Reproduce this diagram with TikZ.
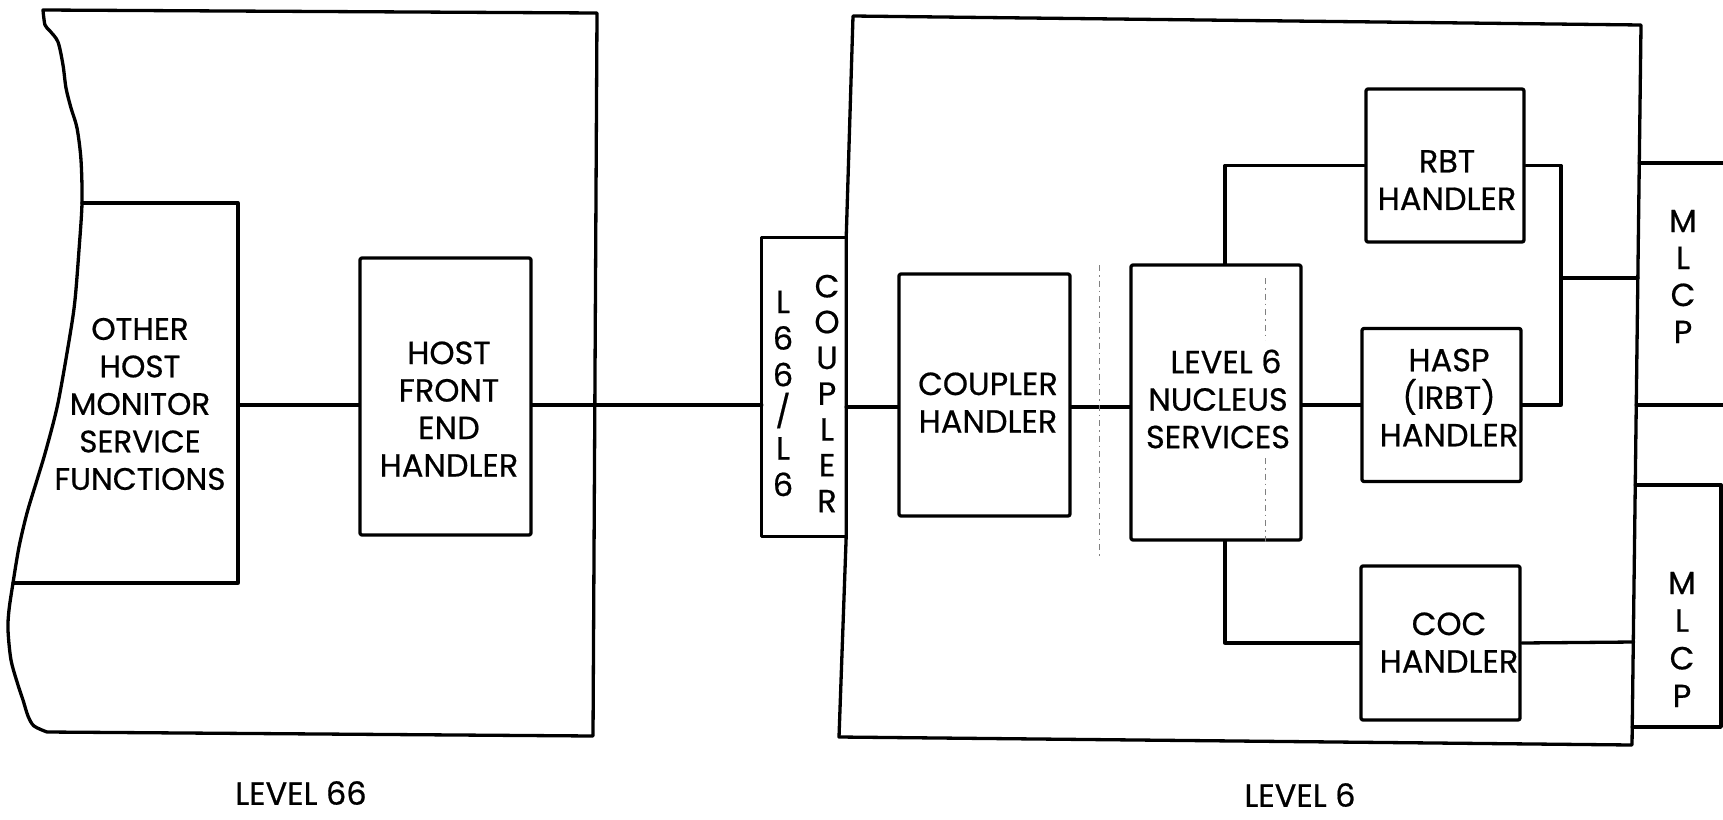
\documentclass[tikz,border=0pt]{standalone}
\usepackage{fontspec}
\setmainfont{Poppins}[FakeBold=0.6]
\begin{document}
\tikzset{
  ln/.style={line width=3.3pt, line join=round, line cap=round},
  blk/.style={draw, ln, rounded corners=2pt, inner sep=0pt},
  lbl/.style={font=\fontsize{32}{37.5}\selectfont, align=center, inner sep=0pt},
  one/.style={font=\fontsize{32}{37.5}\selectfont, inner sep=0pt},
  vlbl/.style={font=\fontsize{32}{36.6}\selectfont, align=center, inner sep=0pt},
  fold/.style={line width=1pt, black!50, dash pattern=on 6pt off 4pt on 1.5pt off 4pt},
}
\begin{tikzpicture}[x=1pt,y=-1pt]
\useasboundingbox (0,0) rectangle (1723,819);
\fill[white] (0,0) rectangle (1723,819);

% ---------- LEVEL 66 ----------
\draw[ln] plot[smooth, tension=0.5] coordinates {(43,10) (45,25) (50,31) (58,42) (63,65) (66,88) (71,108) (77,128) (81,160) (82,203) (79,250) (75,300) (70,335) (58,403) (46,450) (37,480) (27,513) (19,547) (13,583) (9,610) (8,630) (11,660) (18,685) (23,700) (28,716) (34,726) (47,732)} -- (593,736) -- (597,13) -- cycle;

\coordinate (othE) at (238,405);
\draw[ln] (82,203) -- (238,203) -- (238,583) -- (13,583);
\node[font=\fontsize{31}{37.5}\selectfont, align=center, inner sep=0pt] (oth) at (140,404) {OTHER\\HOST\\MONITOR\\SERVICE\\FUNCTIONS};

\node[blk, minimum width=171pt, minimum height=277pt] (hfe) at (445.5,396.5) {};
\node[lbl] (hfeT) at (449,409) {HOST\\FRONT\\END\\HANDLER};

\node[one] (l66) at (301,793) {LEVEL 66};

% ---------- coupler ----------
\node[inner sep=0pt, minimum width=84pt, minimum height=298pt] (cpl) at (804,387) {};
\draw[ln] (cpl.north east) -- (cpl.north west) -- (cpl.south west) -- (cpl.south east);
\node[vlbl] (cplA) at (783,393.5) {L\\6\\6\\/\\L\\6};
\node[font=\fontsize{32}{35.8}\selectfont, align=center, inner sep=0pt] (cplB) at (827,393.5) {C\\O\\U\\P\\L\\E\\R};

% ---------- LEVEL 6 ----------
\draw[ln] (cpl.north east) -- (853,16) -- (1641,25) -- (1632,745) -- (839,737) -- (cpl.south east) -- cycle;

\node[blk, minimum width=171pt, minimum height=242pt] (chd) at (984.5,395) {};
\node[lbl] (chdT) at (988,402.5) {COUPLER\\HANDLER};

\node[blk, minimum width=170pt, minimum height=275pt] (nuc) at (1216,402.5) {};
\node[lbl] (nucT) at (1218,399) {\hspace*{16pt}LEVEL 6\\NUCLEUS\\SERVICES};

\node[blk, minimum width=158pt, minimum height=153pt] (rbt) at (1445,165.5) {};
\node[lbl] (rbtT) at (1447,180) {RBT\\HANDLER};

\node[blk, minimum width=159pt, minimum height=153pt] (hasp) at (1441.5,405) {};
\node[lbl] (haspT) at (1449,397.5) {HASP\\(IRBT)\\HANDLER};

\node[blk, minimum width=159pt, minimum height=154pt] (coc) at (1440.5,643) {};
\node[lbl] (cocT) at (1449,642.5) {COC\\HANDLER};

\node[one] (l6) at (1300,795) {LEVEL 6};

% MLCP boxes (share the right edge of LEVEL 6)
\coordinate (r163) at (1639.3,163);
\coordinate (r278) at (1637.8,278);
\coordinate (r405) at (1636.2,405);
\coordinate (r485) at (1635.3,485);
\coordinate (r642) at (1633.6,642);
\coordinate (r727) at (1632.2,727);
\draw[ln] (r163) -- (1726,163);
\draw[ln] (r405) -- (1726,405);
\draw[ln] (r485) -- (1721,485) -- (1721,727) -- (r727);
\node[vlbl, font=\fontsize{32}{37}\selectfont] (mlcp1) at (1683,276.5) {M\\L\\C\\P};
\node[vlbl, font=\fontsize{32}{37.7}\selectfont] (mlcp2) at (1682,639.5) {M\\L\\C\\P};

% ---------- connectors ----------
\coordinate (m2) at (0,407);
\coordinate (jx) at (1561,0);
\coordinate (nx) at (1225,0);
\draw[ln] (othE) -- (othE -| hfe.west);
\draw[ln] (hfe.east |- othE) -- (othE -| cpl.west);
\draw[ln] (cpl.east |- m2) -- (chd.west |- m2);
\draw[ln] (chd.east |- m2) -- (nuc.west |- m2);
\draw[ln] (nuc.east |- hasp.west) -- (hasp.west);
\draw[ln] (nuc.north -| nx) |- (rbt.west);
\draw[ln] (nuc.south -| nx) |- (coc.west);
\draw[ln] (rbt.east) -- (rbt.east -| jx) -- (hasp.east -| jx) -- (hasp.east);
\draw[ln] (jx |- r278) -- (r278);
\draw[ln] (coc.east) -- (r642);

% faint fold marks
\draw[fold] (1099,265) -- (1099,557);
\draw[fold] (1265,278) -- (1265,340);
\draw[fold] (1265,458) -- (1265,545);
\end{tikzpicture}
\end{document}
